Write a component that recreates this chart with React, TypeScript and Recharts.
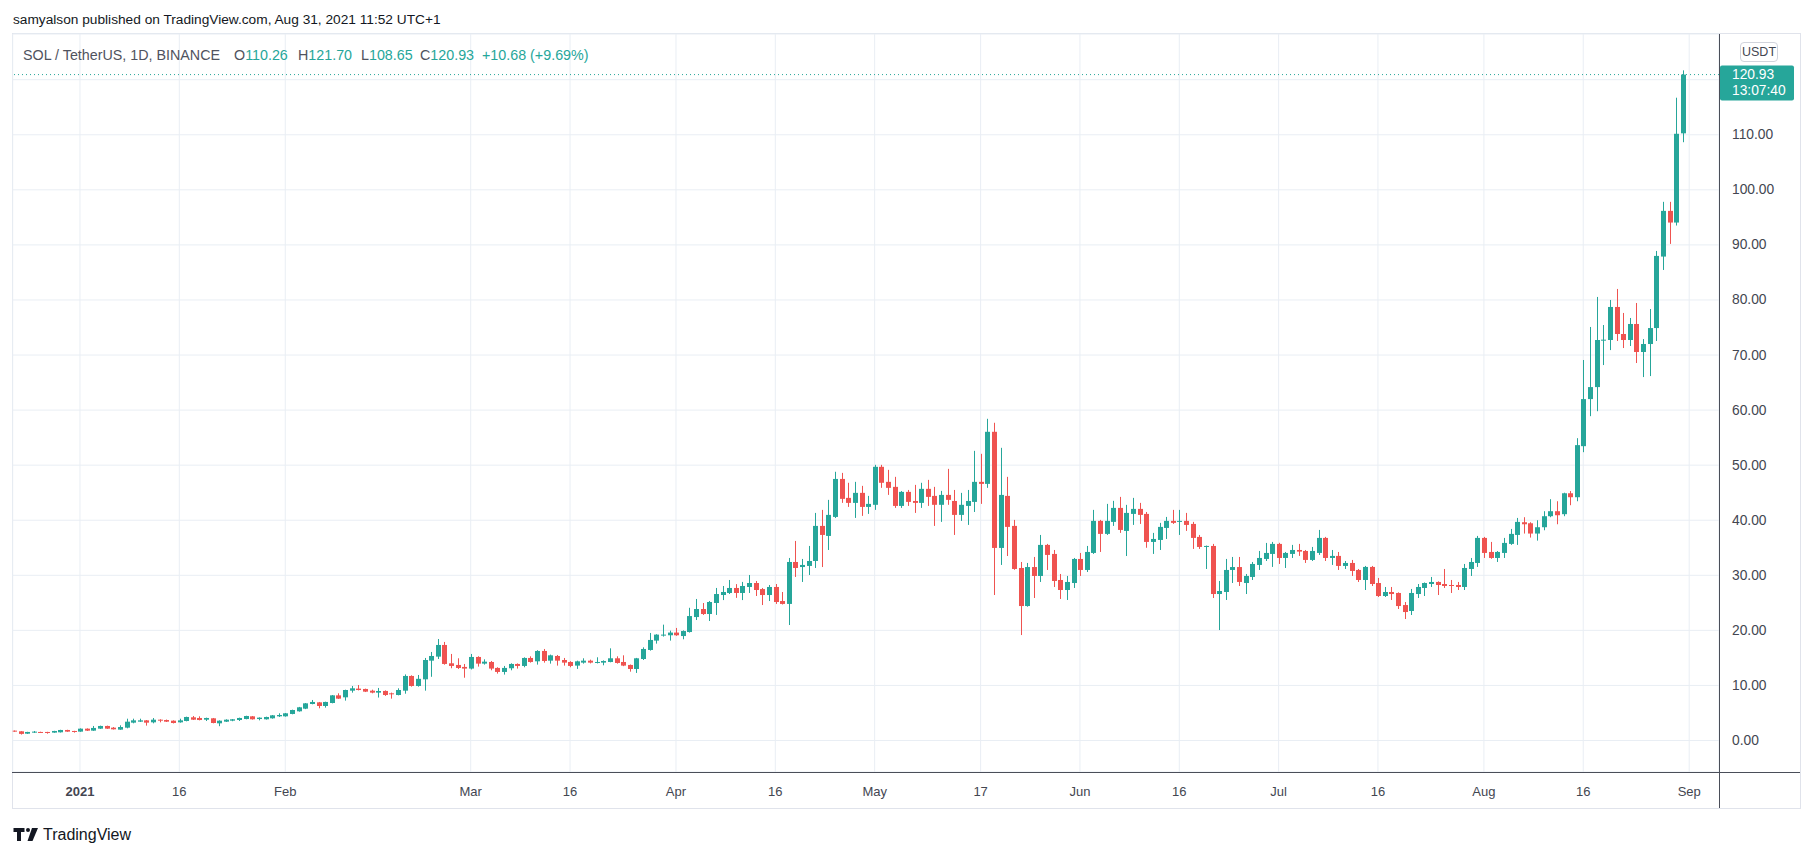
import React from 'react';
import {
  ComposedChart,
  Bar,
  XAxis,
  YAxis,
  CartesianGrid,
  ReferenceLine
} from 'recharts';

// SOL / USDT daily candles, Dec 22 2020 -> Aug 31 2021 (day 0 = Jan 1 2021)
const firstDay = -10;

const open = [
  1.79, 1.67, 1.24, 1.43, 1.55, 1.55, 1.43, 1.49, 1.91, 1.73,
  1.61, 2.15, 1.79, 2.15, 2.64, 2.33, 1.97, 2.33, 3.24, 3.42, 3.66, 3.3, 3.78, 3.72, 3.6, 3.3, 3.54, 4.21, 4.09, 3.78, 4.03, 3.12, 3.42, 3.6, 3.72, 3.9, 4.39, 3.9, 3.85, 4.03, 4.39,
  4.39, 4.82, 5.3, 5.78, 6.63, 6.93, 6.27, 6.81, 8.2, 7.84, 9.05, 9.42, 9.36, 9.05, 8.69, 9.0, 8.57, 8.26, 9.05, 11.72, 9.9, 11.11, 14.5, 15.23, 17.35, 14.02, 13.72, 13.36,
  13.06, 15.17, 13.96, 14.26, 13.18, 12.45, 13.12, 13.9, 13.54, 14.99, 14.38, 16.26, 14.5, 15.35, 14.62, 14.26, 13.6, 14.14, 14.5, 14.14, 14.14, 14.26, 14.93, 14.26, 13.72, 12.99, 14.8, 16.44, 18.14, 19.05, 19.11,
  19.6, 18.97, 19.7, 22.42, 23.88, 22.97, 24.97, 26.42, 26.79, 27.7, 26.79, 27.88, 28.6, 27.5, 26.42, 27.88, 25.33, 24.8, 32.42, 31.5, 31.7, 32.6, 38.97, 37.15, 40.6, 47.5, 44.06, 43.15, 44.97, 42.42,
  42.8, 49.7, 46.97, 46.06, 42.6, 45.15, 43.5, 43.15, 45.7, 44.42, 42.8, 44.6, 43.5, 40.97, 42.6, 43.33, 46.97, 46.6, 56.06, 34.97, 44.42, 38.97, 31.33, 24.42, 31.5, 29.88, 35.52, 33.88, 29.15, 27.33, 28.6,
  32.97, 30.97, 34.06, 39.88, 37.52, 39.7, 42.24, 38.06, 41.15, 42.06, 41.15, 36.06, 36.42, 38.6, 39.88, 39.7, 39.88, 39.33, 36.97, 35.2, 35.33, 26.6, 26.97, 30.97, 31.5, 28.6, 29.7, 31.88, 32.97, 33.88,
  35.7, 33.15, 33.88, 34.6, 34.42, 32.79, 34.06, 36.79, 33.15, 33.52, 31.7, 32.24, 30.97, 29.15, 31.52, 28.6, 26.24, 26.97, 26.79, 24.6, 23.52, 26.6, 27.7, 28.42, 28.79, 28.42, 28.24, 28.24, 27.88, 31.15, 32.24,
  36.79, 34.24, 33.15, 34.06, 35.7, 37.33, 39.64, 39.45, 37.58, 38.73, 40.73, 41.64, 41.1, 44.9, 44.18, 53.45, 62.0, 64.18, 72.67, 72.73, 78.73, 73.82, 72.73, 75.64, 70.55, 72.0, 74.9, 87.88, 96.18, 94.06, 110.26
];

const high = [
  1.82, 1.7, 1.58, 1.73, 1.6, 1.58, 1.76, 1.95, 1.95, 1.76,
  2.2, 2.2, 2.64, 2.7, 2.7, 2.45, 2.76, 3.96, 3.96, 3.96, 3.72, 4.08, 3.85, 3.8, 3.66, 3.96, 4.33, 4.45, 4.39, 4.15, 4.09, 3.66, 3.85, 3.9, 4.15, 4.5, 4.45, 4.2, 4.33, 4.63, 4.94,
  5.0, 5.6, 6.1, 6.8, 7.36, 7.0, 7.05, 8.26, 8.57, 9.23, 9.9, 10.08, 9.42, 9.23, 9.54, 9.1, 8.7, 9.48, 12.0, 11.84, 11.9, 14.99, 16.08, 18.43, 17.9, 15.72, 14.93, 13.9,
  15.72, 15.3, 14.74, 14.44, 13.3, 13.54, 14.02, 14.0, 15.1, 15.29, 16.4, 16.62, 15.6, 15.53, 14.99, 14.4, 14.5, 14.93, 14.68, 15.11, 14.55, 16.74, 15.29, 15.47, 13.8, 15.0, 16.92, 19.53, 19.3, 21.04, 19.95,
  20.44, 20.0, 24.1, 25.7, 24.97, 25.33, 27.7, 28.06, 29.15, 28.4, 28.8, 30.06, 28.97, 27.7, 28.24, 28.42, 26.97, 33.15, 36.24, 32.97, 35.33, 41.33, 41.88, 43.7, 48.8, 48.6, 46.8, 46.97, 46.24, 44.42,
  50.06, 50.06, 49.15, 47.88, 45.3, 45.5, 46.42, 46.8, 47.33, 46.06, 45.33, 49.33, 45.5, 44.97, 45.5, 52.6, 52.06, 58.42, 57.7, 53.15, 47.88, 40.06, 32.42, 32.24, 33.33, 37.33, 35.7, 34.6, 30.24, 29.88, 33.15,
  34.06, 35.33, 41.88, 40.06, 42.97, 43.52, 44.24, 42.79, 44.06, 43.15, 41.5, 37.7, 39.52, 40.6, 41.88, 41.88, 41.33, 39.7, 37.33, 35.4, 35.7, 28.97, 32.97, 33.33, 33.33, 30.24, 32.42, 34.42, 35.88, 36.06,
  35.9, 34.24, 35.52, 35.7, 34.6, 35.15, 38.24, 36.97, 34.6, 34.24, 32.6, 32.79, 31.15, 31.7, 31.7, 29.52, 27.88, 27.88, 26.9, 25.15, 27.52, 28.42, 28.7, 29.7, 28.9, 31.15, 29.15, 28.79, 32.06, 33.15, 37.15,
  36.97, 36.06, 34.4, 36.79, 38.42, 40.42, 40.55, 39.64, 40.0, 41.64, 43.82, 43.45, 45.0, 45.3, 54.9, 69.1, 75.1, 80.55, 75.45, 80.0, 82.0, 77.64, 76.73, 79.45, 72.9, 78.36, 88.9, 97.82, 97.82, 116.73, 121.7
];

const low = [
  1.58, 1.08, 1.2, 1.37, 1.4, 1.24, 1.4, 1.45, 1.58, 1.43,
  1.58, 1.73, 1.75, 2.1, 2.1, 2.0, 1.94, 2.21, 3.12, 3.36, 2.7, 3.12, 3.3, 3.36, 3.1, 3.24, 3.48, 3.72, 3.66, 3.54, 3.12, 2.6, 3.36, 3.5, 3.54, 3.85, 3.8, 3.66, 3.8, 3.97, 4.27,
  4.33, 4.76, 5.24, 5.7, 6.57, 5.85, 5.97, 6.75, 7.55, 7.24, 8.69, 9.1, 8.8, 8.57, 7.8, 8.1, 7.6, 8.2, 8.5, 9.78, 9.78, 9.05, 11.57, 14.8, 13.77, 13.12, 12.99, 11.4,
  12.9, 13.42, 13.78, 12.75, 12.15, 11.97, 12.75, 13.06, 13.3, 14.14, 13.78, 14.14, 13.96, 13.6, 13.6, 13.3, 13.0, 13.96, 14.0, 14.0, 13.66, 14.2, 13.96, 13.5, 12.5, 12.27, 14.62, 16.32, 17.59, 18.87, 18.14,
  19.0, 18.38, 19.6, 21.88, 22.8, 21.7, 22.8, 25.5, 26.6, 25.9, 25.5, 26.79, 26.24, 24.6, 25.33, 24.8, 24.7, 20.97, 29.7, 28.79, 30.06, 31.33, 31.5, 34.6, 40.4, 43.15, 42.42, 40.42, 40.79, 41.15,
  41.88, 45.88, 44.6, 42.24, 42.24, 42.6, 41.33, 42.24, 42.6, 38.97, 39.7, 42.8, 37.33, 39.88, 39.15, 41.5, 42.97, 45.88, 26.42, 31.88, 33.5, 31.0, 19.15, 24.3, 25.88, 28.79, 30.97, 27.88, 25.7, 25.52, 27.7,
  29.88, 30.6, 33.88, 34.24, 37.33, 38.97, 37.7, 33.5, 39.15, 39.33, 35.0, 33.88, 34.6, 36.6, 39.33, 37.33, 38.06, 34.79, 34.79, 31.15, 25.88, 20.06, 25.52, 28.6, 28.06, 26.6, 29.15, 30.97, 32.6, 31.52,
  32.06, 31.33, 33.15, 33.52, 32.24, 32.6, 33.7, 32.6, 31.88, 30.97, 31.15, 29.88, 28.79, 27.33, 28.06, 26.06, 26.06, 25.52, 23.88, 22.06, 22.79, 25.88, 26.24, 27.88, 26.42, 27.7, 26.79, 27.33, 27.33, 29.88, 31.52,
  33.15, 33.0, 32.42, 33.15, 35.52, 35.52, 37.58, 36.85, 36.3, 38.18, 40.55, 39.27, 40.73, 42.73, 43.45, 52.36, 58.9, 59.8, 68.18, 70.9, 72.55, 71.27, 71.64, 68.55, 66.0, 66.18, 72.55, 85.45, 90.18, 93.52, 108.65
];

const close = [
  1.61, 1.2, 1.55, 1.61, 1.43, 1.37, 1.73, 1.91, 1.61, 1.55,
  2.15, 1.79, 2.28, 2.64, 2.15, 2.03, 2.45, 3.42, 3.66, 3.66, 3.24, 3.78, 3.6, 3.42, 3.18, 3.66, 4.27, 3.78, 3.72, 4.09, 3.18, 3.6, 3.78, 3.85, 4.09, 4.45, 3.85, 4.15, 4.27, 4.57, 4.63,
  4.94, 5.54, 6.03, 6.75, 7.0, 6.27, 7.0, 8.2, 7.6, 9.17, 9.48, 9.17, 8.87, 8.69, 8.99, 8.26, 8.4, 9.17, 11.72, 9.9, 11.2, 14.62, 15.35, 17.35, 13.9, 13.54, 13.17, 13.06,
  15.17, 13.96, 14.32, 13.06, 12.45, 13.18, 13.9, 13.54, 14.99, 14.26, 16.26, 14.44, 15.47, 14.5, 14.14, 13.54, 14.38, 14.5, 14.14, 14.26, 14.44, 14.93, 14.08, 13.6, 12.99, 14.93, 16.62, 18.26, 19.23, 19.23, 19.6,
  19.11, 19.88, 22.6, 23.88, 22.97, 25.15, 26.6, 26.97, 27.7, 26.79, 28.06, 28.6, 27.33, 26.42, 27.88, 25.15, 24.8, 32.42, 31.33, 31.88, 32.6, 38.97, 37.33, 40.97, 47.5, 43.88, 43.15, 44.97, 42.42, 42.97,
  49.7, 46.8, 45.88, 42.6, 45.15, 43.33, 43.15, 45.7, 44.24, 42.8, 44.6, 43.7, 40.97, 42.8, 43.5, 46.97, 46.6, 56.06, 34.97, 44.6, 38.79, 31.15, 24.42, 31.5, 29.88, 35.52, 33.7, 28.97, 27.33, 28.79, 32.97,
  30.97, 34.24, 39.88, 37.52, 39.88, 42.24, 38.24, 41.33, 42.06, 40.97, 36.06, 36.6, 38.79, 39.88, 39.52, 39.88, 39.15, 36.79, 35.15, 35.33, 26.6, 27.15, 30.97, 31.5, 28.79, 29.88, 32.06, 33.15, 34.06, 35.7,
  33.15, 34.06, 34.6, 34.3, 32.79, 34.42, 36.79, 33.15, 33.52, 31.7, 32.24, 30.79, 29.15, 31.52, 28.42, 26.24, 26.97, 26.6, 24.42, 23.33, 26.79, 27.88, 28.6, 28.79, 28.24, 28.06, 28.12, 27.88, 31.33, 32.42, 36.79,
  34.06, 33.15, 34.24, 35.88, 37.52, 39.7, 39.27, 37.58, 38.73, 40.73, 41.64, 40.91, 44.9, 44.18, 53.64, 62.0, 64.18, 72.73, 72.79, 78.73, 73.82, 72.73, 75.64, 70.55, 72.0, 74.9, 88.0, 96.18, 94.06, 110.18, 120.93
];

const tickDays = [0, 15, 31, 59, 74, 90, 105, 120, 136, 151, 166, 181, 196, 212, 227, 243];
const tickLabels = ['2021', '16', 'Feb', 'Mar', '16', 'Apr', '16', 'May', '17', 'Jun', '16', 'Jul', '16', 'Aug', '16', 'Sep'];
const priceTicks = [0, 10, 20, 30, 40, 50, 60, 70, 80, 90, 100, 110, 120];

const UP = '#26a69a';
const DOWN = '#ef5350';
const FONT = '"Liberation Sans", Arial, sans-serif';

const data = open.map((o, i) => ({
  day: firstDay + i,
  open: o,
  high: high[i],
  low: low[i],
  close: close[i]
}));

const last = data[data.length - 1];

const Candle = (props: any) => {
  const { x, y, width, height, payload } = props;
  const { open: o, close: c, high: h, low: l } = payload;
  const color = c >= o ? UP : DOWN;
  const ppu = h > l ? height / (h - l) : 0;
  const cx = Math.round(x + width / 2) + 0.5;
  const top = y + (h - Math.max(o, c)) * ppu;
  const bottom = y + (h - Math.min(o, c)) * ppu;
  return (
    <g>
      <line x1={cx} x2={cx} y1={y} y2={y + height} stroke={color} strokeWidth={1} />
      <rect x={cx - 2.5} y={top} width={5} height={Math.max(1, bottom - top)} fill={color} />
    </g>
  );
};

const TimeTick = (props: any) => {
  const { x, y, payload } = props;
  const i = tickDays.indexOf(payload.value);
  return (
    <text
      x={x}
      y={y + 19}
      textAnchor="middle"
      dominantBaseline="central"
      fontSize={13}
      fontFamily={FONT}
      fontWeight={i === 0 ? 'bold' : 'normal'}
      fill="#434651"
    >
      {tickLabels[i]}
    </text>
  );
};

const PriceTick = (props: any) => {
  const { x, y, payload } = props;
  if (payload.value === 120) return <g />;
  return (
    <text x={x} y={y} dominantBaseline="central" fontSize={13.8} fontFamily={FONT} fill="#434651">
      {payload.value.toFixed(2)}
    </text>
  );
};

const PriceTag = (props: any) => {
  const vb = props.viewBox || {};
  const x = (vb.x || 0) + (vb.width || 0);
  const y = vb.y || 0;
  return (
    <g>
      <rect x={x + 1} y={y - 9} width={74} height={35} rx={2} fill={UP} />
      <text x={x + 13} y={y} dominantBaseline="central" fontSize={13.8} fontFamily={FONT} fill="#fff">
        {last.close.toFixed(2)}
      </text>
      <text x={x + 13} y={y + 16} dominantBaseline="central" fontSize={13.8} fontFamily={FONT} fill="#fff">
        13:07:40
      </text>
    </g>
  );
};

const legendParts = [
  { left: 234, k: 'O', v: '110.26' },
  { left: 298, k: 'H', v: '121.70' },
  { left: 361, k: 'L', v: '108.65' },
  { left: 420, k: 'C', v: '120.93' }
];

const App: React.FC = () => {
  return (
    <div
      style={{
        position: 'absolute',
        left: 0,
        top: 0,
        width: 1813,
        height: 851,
        background: '#fff',
        fontFamily: FONT,
        overflow: 'hidden'
      }}
    >
      <div style={{ position: 'absolute', left: 13, top: 11, fontSize: 13.7, color: '#131722', lineHeight: '18px' }}>
        samyalson published on TradingView.com, Aug 31, 2021 11:52 UTC+1
      </div>

      {/* chart frame */}
      <div
        style={{
          position: 'absolute',
          left: 12,
          top: 33,
          width: 1787,
          height: 774,
          border: '1px solid #e0e3eb'
        }}
      />

      <div style={{ position: 'absolute', left: 0, top: 0 }}>
        <ComposedChart
          width={1813}
          height={851}
          data={data}
          margin={{ top: 34, right: 13, bottom: 44, left: 12.7 }}
        >
          <CartesianGrid stroke="#e9eef4" strokeWidth={1} />
          <XAxis
            dataKey="day"
            type="number"
            domain={[-10.16, 247.5]}
            ticks={tickDays}
            allowDataOverflow
            height={35}
            tickSize={0}
            tickMargin={0}
            axisLine={false}
            tickLine={false}
            tick={<TimeTick />}
          />
          <YAxis
            orientation="right"
            type="number"
            domain={[-5.72, 128.3]}
            ticks={priceTicks}
            allowDataOverflow
            width={81}
            tickSize={0}
            tickMargin={13}
            axisLine={false}
            tickLine={false}
            tick={<PriceTick />}
          />
          <ReferenceLine
            y={last.close}
            stroke={UP}
            strokeDasharray="1 3"
            label={(p: any) => <PriceTag {...p} />}
          />
          <Bar
            dataKey={(d: any) => [d.low, d.high]}
            barSize={5}
            shape={<Candle />}
            isAnimationActive={false}
          />
        </ComposedChart>
      </div>

      {/* axis separators */}
      <div style={{ position: 'absolute', left: 12, top: 772, width: 1788, height: 1, background: '#4a4e59' }} />
      <div style={{ position: 'absolute', left: 1719, top: 34, width: 1, height: 774, background: '#4a4e59' }} />

      {/* legend */}
      <div style={{ position: 'absolute', left: 23, top: 46, fontSize: 14.3, color: '#50535e', lineHeight: '18px', whiteSpace: 'nowrap' }}>
        SOL / TetherUS, 1D, BINANCE
      </div>
      {legendParts.map((p) => (
        <div
          key={p.k}
          style={{ position: 'absolute', left: p.left, top: 46, fontSize: 14.3, lineHeight: '18px', whiteSpace: 'nowrap' }}
        >
          <span style={{ color: '#50535e' }}>{p.k}</span>
          <span style={{ color: UP }}>{p.v}</span>
        </div>
      ))}
      <div style={{ position: 'absolute', left: 482, top: 46, fontSize: 14.3, lineHeight: '18px', color: UP, whiteSpace: 'nowrap' }}>
        +10.68 (+9.69%)
      </div>

      {/* currency badge */}
      <div
        style={{
          position: 'absolute',
          left: 1740,
          top: 42,
          width: 38,
          height: 20,
          border: '1px solid #d1d4dc',
          borderRadius: 4,
          boxSizing: 'border-box',
          fontSize: 12.5,
          color: '#434651',
          textAlign: 'center',
          lineHeight: '18px'
        }}
      >
        USDT
      </div>

      {/* TradingView mark */}
      <svg style={{ position: 'absolute', left: 12, top: 826 }} width={140} height={20}>
        <path d="M1.5 2 h11 v4 h-3.5 v9 h-4 v-9 h-3.5 z" fill="#131722" />
        <circle cx={16} cy={4} r={2} fill="#131722" />
        <path d="M20 2 h6 l-5.5 13 h-5 z" fill="#131722" />
      </svg>
      <div style={{ position: 'absolute', left: 43, top: 825, fontSize: 16, color: '#131722', lineHeight: '20px' }}>
        TradingView
      </div>
    </div>
  );
};

export default App;
